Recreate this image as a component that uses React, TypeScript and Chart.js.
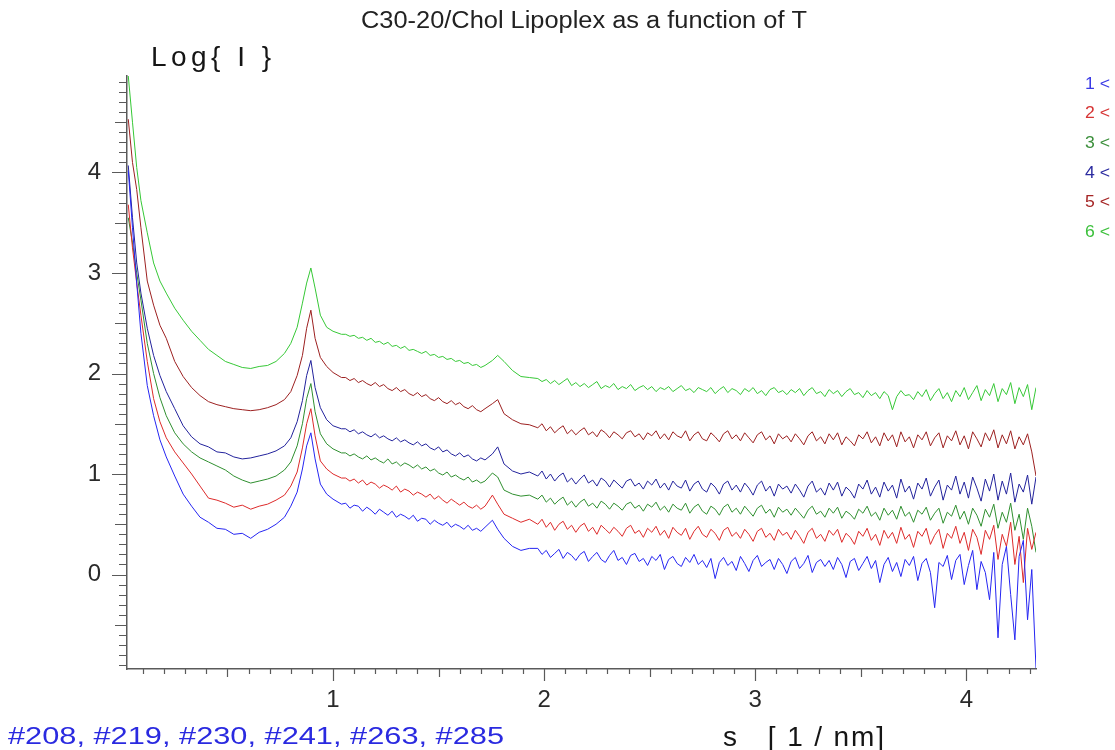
import React, { useEffect, useRef } from 'react';
import { Chart, registerables } from 'chart.js';

Chart.register(...registerables);

// ---------------- data ----------------
const S = [
  0.03, 0.05, 0.07, 0.09, 0.12, 0.15, 0.18, 0.21, 0.25, 0.29, 0.33, 0.37, 0.41, 0.45, 0.49, 0.53, 0.57, 0.61, 0.65, 0.69, 0.73, 0.77,
  0.80, 0.83, 0.855, 0.875, 0.895, 0.915, 0.94, 0.97, 1.00, 1.04,
  1.06, 1.08, 1.10, 1.12, 1.14, 1.16, 1.18, 1.20, 1.22, 1.24, 1.26, 1.28, 1.30, 1.32, 1.34, 1.36, 1.38,
  1.40, 1.42, 1.44, 1.46, 1.48, 1.50, 1.52, 1.54, 1.56, 1.58, 1.60, 1.62, 1.64, 1.66, 1.68, 1.70, 1.72,
  1.755, 1.78, 1.81, 1.85, 1.89, 1.93,
  1.97, 1.99, 2.01, 2.03, 2.05, 2.07, 2.09, 2.11, 2.13, 2.15,
  2.17, 2.19, 2.21, 2.23, 2.25, 2.27, 2.29, 2.31, 2.33, 2.35,
  2.37, 2.39, 2.41, 2.43, 2.45, 2.47, 2.49, 2.51, 2.53, 2.55,
  2.57, 2.59, 2.61, 2.63, 2.65, 2.67, 2.69, 2.71, 2.73, 2.75,
  2.77, 2.79, 2.81, 2.83, 2.85, 2.87, 2.89, 2.91, 2.93, 2.95,
  2.97, 2.99, 3.01, 3.03, 3.05, 3.07, 3.09, 3.11, 3.13, 3.15,
  3.17, 3.19, 3.21, 3.23, 3.25, 3.27, 3.29, 3.31, 3.33, 3.35,
  3.37, 3.39, 3.41, 3.43, 3.45, 3.47, 3.49, 3.51, 3.53, 3.55,
  3.57, 3.59, 3.61, 3.63, 3.65, 3.67, 3.69, 3.71, 3.73, 3.75,
  3.77, 3.79, 3.81, 3.83, 3.85, 3.87, 3.89, 3.91, 3.93, 3.95,
  3.97, 3.99, 4.01, 4.03, 4.05, 4.07, 4.09, 4.11, 4.13, 4.15,
  4.17, 4.19, 4.21, 4.23, 4.25, 4.27, 4.29, 4.31, 4.33,
];

const LOGI_208 = [
  4.02, 3.45, 2.90, 2.40, 1.88, 1.58, 1.34, 1.17, 0.98, 0.80, 0.68, 0.57, 0.52, 0.46, 0.45, 0.40, 0.41, 0.36, 0.42, 0.45, 0.50, 0.57,
  0.68, 0.82, 1.05, 1.28, 1.41, 1.15, 0.90, 0.80, 0.75, 0.70,
  0.71, 0.66, 0.69, 0.68, 0.63, 0.67, 0.64, 0.60, 0.65, 0.62, 0.59, 0.63, 0.57, 0.60, 0.58, 0.55, 0.59,
  0.53, 0.56, 0.55, 0.50, 0.54, 0.51, 0.49, 0.52, 0.47, 0.50, 0.48, 0.45, 0.49, 0.44, 0.46, 0.43, 0.47,
  0.54, 0.45, 0.36, 0.28, 0.24, 0.26,
  0.26, 0.20, 0.24, 0.17, 0.21, 0.25, 0.16, 0.22, 0.19, 0.14,
  0.20, 0.23, 0.13, 0.18, 0.22, 0.15, 0.12, 0.19, 0.24, 0.14,
  0.17, 0.10, 0.19, 0.21, 0.13, 0.16, 0.09, 0.18, 0.14, 0.20,
  0.05, 0.15, 0.18, 0.11, 0.08, 0.17, 0.12, 0.20, 0.10, 0.14,
  0.07, 0.16, -0.04, 0.12, 0.17, 0.09, 0.13, 0.04, 0.18, 0.11,
  0.03, 0.14, 0.19, 0.08, 0.12, 0.15, 0.05, 0.16, 0.10, 0.01,
  0.13, 0.17, 0.06, 0.11, 0.19, 0.02, 0.12, 0.15, 0.08, 0.14,
  0.05, 0.17, 0.10, -0.03, 0.13, 0.16, 0.04, 0.11, 0.18, 0.06,
  0.14, -0.08, 0.10, 0.17, 0.03, 0.12, -0.02, 0.15, 0.09, 0.18,
  -0.06, 0.11, 0.16, 0.02, -0.33, 0.12, 0.08, 0.19, -0.05, 0.14,
  0.20, -0.10, 0.09, 0.24, -0.15, 0.13, 0.02, -0.25, 0.22, -0.63,
  0.10, 0.28, -0.20, -0.65, 0.18, 0.34, -0.45, 0.05, -0.93,
];

const LOGI_219 = [
  3.68, 3.25, 2.90, 2.58, 2.12, 1.75, 1.52, 1.36, 1.22, 1.11, 1.00, 0.88, 0.76, 0.74, 0.71, 0.67, 0.69, 0.65, 0.68, 0.70, 0.74, 0.79,
  0.88, 1.02, 1.26, 1.50, 1.65, 1.38, 1.13, 1.05, 1.00, 0.96,
  0.96, 0.93, 0.95, 0.91, 0.94, 0.89, 0.92, 0.90, 0.86, 0.89, 0.87, 0.84, 0.88, 0.82, 0.85, 0.83, 0.79,
  0.82, 0.80, 0.77, 0.80, 0.75, 0.78, 0.74, 0.71, 0.75, 0.72, 0.69, 0.72, 0.68, 0.66, 0.69, 0.65, 0.68,
  0.79, 0.70, 0.60, 0.56, 0.52, 0.55,
  0.50, 0.55, 0.47, 0.52, 0.44, 0.50, 0.53, 0.45, 0.49, 0.42,
  0.48, 0.51, 0.43, 0.47, 0.40, 0.49, 0.45, 0.41, 0.47, 0.43,
  0.38, 0.46, 0.49, 0.41, 0.44, 0.37, 0.46, 0.42, 0.48, 0.39,
  0.44, 0.36, 0.47, 0.42, 0.39, 0.46, 0.35, 0.43, 0.48, 0.40,
  0.37, 0.45, 0.41, 0.34, 0.44, 0.47, 0.38, 0.42, 0.36, 0.45,
  0.40, 0.33, 0.43, 0.46, 0.37, 0.41, 0.34, 0.45, 0.39, 0.42,
  0.35, 0.44, 0.38, 0.31, 0.42, 0.46, 0.36, 0.40, 0.33, 0.44,
  0.39, 0.45, 0.32, 0.41, 0.37, 0.30, 0.43, 0.38, 0.46, 0.34,
  0.40, 0.29, 0.44, 0.36, 0.42, 0.31, 0.47, 0.35, 0.40, 0.27,
  0.43, 0.38, 0.46, 0.30, 0.39, 0.45, 0.26, 0.41, 0.36, 0.48,
  0.31, 0.42, 0.24, 0.45, 0.37, 0.20, 0.44, 0.35, 0.49, 0.15,
  0.40, 0.28, 0.52, 0.10, 0.38, -0.08, 0.46, 0.25, 0.42,
];

const LOGI_230 = [
  3.55, 3.30, 3.00, 2.73, 2.30, 2.00, 1.76, 1.58, 1.41, 1.30, 1.22, 1.16, 1.12, 1.08, 1.04, 0.98, 0.94, 0.91, 0.93, 0.95, 0.98, 1.04,
  1.12, 1.28, 1.50, 1.75, 1.90, 1.62, 1.40, 1.30, 1.25, 1.21,
  1.21, 1.18, 1.20, 1.17, 1.15, 1.18, 1.14, 1.16, 1.13, 1.11, 1.15, 1.10, 1.12, 1.08, 1.11, 1.09, 1.06,
  1.09, 1.05, 1.07, 1.03, 1.05, 1.01, 0.99, 1.02, 0.97, 0.99, 0.96, 0.94, 0.97, 0.92, 0.94, 0.91, 0.93,
  1.01, 0.97, 0.84, 0.80, 0.78, 0.79,
  0.75, 0.79, 0.72, 0.76, 0.70, 0.74, 0.77, 0.69, 0.73, 0.67,
  0.72, 0.75, 0.68, 0.71, 0.66, 0.73, 0.70, 0.65, 0.71, 0.68,
  0.64, 0.70, 0.72, 0.66, 0.69, 0.63, 0.70, 0.67, 0.72, 0.64,
  0.68, 0.62, 0.70, 0.66, 0.64, 0.71, 0.61, 0.67, 0.70, 0.63,
  0.60, 0.68, 0.65, 0.59, 0.67, 0.70, 0.62, 0.66, 0.60, 0.68,
  0.63, 0.58, 0.66, 0.69, 0.61, 0.65, 0.57, 0.67, 0.62, 0.65,
  0.59, 0.66, 0.61, 0.56, 0.64, 0.68, 0.60, 0.63, 0.57, 0.66,
  0.61, 0.67, 0.56, 0.63, 0.60, 0.55, 0.65, 0.61, 0.68, 0.58,
  0.62, 0.54, 0.66, 0.59, 0.64, 0.55, 0.68, 0.58, 0.62, 0.52,
  0.64, 0.60, 0.67, 0.54, 0.61, 0.66, 0.51, 0.62, 0.58, 0.69,
  0.55, 0.63, 0.50, 0.66, 0.59, 0.48, 0.65, 0.57, 0.70, 0.46,
  0.62, 0.52, 0.71, 0.44, 0.60, 0.35, 0.66, 0.48, 0.22,
];

const LOGI_241 = [
  4.07, 3.55, 3.10, 2.80, 2.45, 2.18, 1.98, 1.82, 1.65, 1.48, 1.37, 1.30, 1.27, 1.22, 1.21, 1.17, 1.15, 1.16, 1.18, 1.20, 1.23, 1.28,
  1.36, 1.52, 1.73, 1.98, 2.13, 1.86, 1.66, 1.54, 1.48, 1.45,
  1.45, 1.42, 1.44, 1.40, 1.42, 1.39, 1.37, 1.40, 1.36, 1.38, 1.35, 1.33, 1.36, 1.32, 1.34, 1.31, 1.29,
  1.32, 1.28, 1.30, 1.26, 1.24, 1.27, 1.22, 1.24, 1.20, 1.18, 1.21, 1.17, 1.19, 1.15, 1.13, 1.16, 1.14,
  1.20, 1.27, 1.10, 1.03, 1.00, 1.02,
  0.98, 1.03, 0.95, 1.00, 0.93, 0.98, 1.01, 0.92, 0.96, 0.90,
  0.95, 0.99, 0.91, 0.94, 0.88, 0.96, 0.93, 0.87, 0.94, 0.90,
  0.86, 0.93, 0.95, 0.88, 0.91, 0.85, 0.93, 0.89, 0.95, 0.86,
  0.91, 0.84, 0.93, 0.88, 0.86, 0.94, 0.83, 0.90, 0.93, 0.85,
  0.82, 0.91, 0.87, 0.80, 0.90, 0.93, 0.84, 0.89, 0.82, 0.91,
  0.86, 0.79, 0.89, 0.93, 0.83, 0.88, 0.78, 0.90, 0.85, 0.88,
  0.81, 0.90, 0.84, 0.77, 0.88, 0.93, 0.82, 0.86, 0.79, 0.91,
  0.84, 0.92, 0.78, 0.87, 0.83, 0.76, 0.90, 0.85, 0.94, 0.80,
  0.87, 0.77, 0.92, 0.83, 0.89, 0.76, 0.95, 0.82, 0.88, 0.75,
  0.91, 0.85, 0.96, 0.78, 0.87, 0.94, 0.74, 0.89, 0.84, 0.98,
  0.80, 0.92, 0.76, 0.97, 0.86, 0.73, 0.95, 0.83, 1.00, 0.74,
  0.93, 0.80, 1.01, 0.72, 0.90, 0.82, 0.99, 0.70, 0.97,
];

const LOGI_263 = [
  4.53, 4.10, 3.83, 3.45, 2.92, 2.68, 2.48, 2.35, 2.12, 1.97, 1.86, 1.78, 1.72, 1.69, 1.67, 1.65, 1.64, 1.63, 1.64, 1.66, 1.69, 1.74,
  1.82, 1.98, 2.18, 2.45, 2.63, 2.35, 2.16, 2.07, 2.01, 1.96,
  1.96, 1.93, 1.95, 1.91, 1.93, 1.90, 1.88, 1.91, 1.87, 1.89, 1.85, 1.83, 1.86, 1.82, 1.84, 1.80, 1.78,
  1.81, 1.77, 1.79, 1.75, 1.73, 1.76, 1.72, 1.70, 1.73, 1.69, 1.71, 1.67, 1.65, 1.68, 1.64, 1.62, 1.65,
  1.70, 1.74, 1.60, 1.54, 1.50, 1.49,
  1.46, 1.50, 1.43, 1.47, 1.41, 1.45, 1.48, 1.40, 1.44, 1.39,
  1.43, 1.46, 1.39, 1.42, 1.37, 1.44, 1.41, 1.36, 1.42, 1.39,
  1.35, 1.41, 1.43, 1.37, 1.40, 1.34, 1.41, 1.38, 1.43, 1.35,
  1.40, 1.34, 1.42, 1.38, 1.36, 1.43, 1.33, 1.39, 1.42, 1.35,
  1.33, 1.41, 1.37, 1.32, 1.40, 1.43, 1.35, 1.39, 1.33, 1.41,
  1.36, 1.31, 1.39, 1.42, 1.34, 1.38, 1.30, 1.40, 1.35, 1.38,
  1.32, 1.40, 1.35, 1.29, 1.38, 1.42, 1.33, 1.37, 1.30, 1.40,
  1.34, 1.41, 1.29, 1.37, 1.33, 1.28, 1.39, 1.35, 1.42, 1.31,
  1.37, 1.28, 1.41, 1.33, 1.39, 1.27, 1.42, 1.32, 1.37, 1.26,
  1.39, 1.34, 1.42, 1.28, 1.36, 1.41, 1.26, 1.38, 1.33, 1.43,
  1.29, 1.38, 1.25, 1.42, 1.35, 1.27, 1.41, 1.33, 1.44, 1.26,
  1.39, 1.30, 1.43, 1.25, 1.37, 1.29, 1.40, 1.22, 0.98,
];

const LOGI_285 = [
  4.96, 4.50, 4.05, 3.72, 3.40, 3.10, 2.92, 2.80, 2.65, 2.53, 2.42, 2.33, 2.24, 2.18, 2.12, 2.09, 2.06, 2.05, 2.07, 2.08, 2.12, 2.20,
  2.30, 2.46, 2.70, 2.90, 3.05, 2.85, 2.58, 2.46, 2.42, 2.39,
  2.39, 2.37, 2.38, 2.35, 2.36, 2.33, 2.35, 2.31, 2.32, 2.29, 2.31, 2.27, 2.28, 2.25, 2.27, 2.23, 2.24,
  2.22, 2.20, 2.22, 2.18, 2.19, 2.16, 2.17, 2.14, 2.15, 2.12, 2.13, 2.10, 2.11, 2.08, 2.09, 2.06, 2.08,
  2.13, 2.18, 2.12, 2.03, 1.97, 1.96,
  1.95, 1.92, 1.94, 1.90, 1.93, 1.89, 1.92, 1.95, 1.88, 1.91,
  1.87, 1.90, 1.86, 1.89, 1.92, 1.85, 1.88, 1.86, 1.90, 1.84,
  1.87, 1.85, 1.89, 1.83, 1.86, 1.88, 1.84, 1.87, 1.82, 1.86,
  1.84, 1.87, 1.82, 1.85, 1.88, 1.83, 1.85, 1.81, 1.86, 1.84,
  1.82, 1.86, 1.80, 1.84, 1.87, 1.81, 1.85, 1.83, 1.79, 1.85,
  1.82, 1.86, 1.80, 1.83, 1.78, 1.84, 1.86, 1.81, 1.83, 1.79,
  1.84, 1.81, 1.85, 1.78, 1.83, 1.86, 1.80, 1.82, 1.77, 1.84,
  1.80, 1.83, 1.77, 1.82, 1.85, 1.79, 1.81, 1.76, 1.83, 1.78,
  1.81, 1.75, 1.82, 1.78, 1.64, 1.77, 1.83, 1.78, 1.79, 1.74,
  1.82, 1.77, 1.84, 1.73, 1.80, 1.85, 1.75, 1.81, 1.72, 1.83,
  1.77, 1.86, 1.74, 1.81, 1.88, 1.73, 1.84, 1.78, 1.90, 1.72,
  1.85, 1.79, 1.91, 1.70, 1.86, 1.77, 1.89, 1.64, 1.86,
];

const SERIES = [LOGI_208, LOGI_219, LOGI_230, LOGI_241, LOGI_263, LOGI_285];
const RUN_IDS = ['#208', '#219', '#230', '#241', '#263', '#285'];
const LINE_COLORS = ['#2525f2', '#dd2a2a', '#2f8f2f', '#22229c', '#9c2020', '#36c836'];
const LEGEND_LABELS = ['1 <', '2 <', '3 <', '4 <', '5 <', '6 <'];
const LEGEND_COLORS = ['#3a3ae6', '#d63434', '#3b8f3b', '#2b2ba0', '#a52525', '#3cc03c'];
const X_TICKS = [1, 2, 3, 4];
const Y_TICKS = [0, 1, 2, 3, 4];

const TITLE = 'C30-20/Chol Lipoplex as a function of T';
const Y_TITLE = 'Log{ I }';
const X_TITLE = 's   [ 1 / nm]';
const RUNS_TEXT = '#208, #219, #230, #241, #263, #285';

const FONT = '"Liberation Sans", Arial, sans-serif';
const AXIS_COLOR = '#5a5a5a';

// text stretched/condensed horizontally to a target width
function scaledText(ctx: CanvasRenderingContext2D, text: string, x: number, y: number, width: number, font: string, color: string) {
  ctx.save();
  ctx.font = font;
  ctx.fillStyle = color;
  ctx.textAlign = 'left';
  ctx.textBaseline = 'middle';
  const w = ctx.measureText(text).width;
  ctx.translate(x, y);
  ctx.scale(width / w, 1);
  ctx.fillText(text, 0, 0);
  ctx.restore();
}

// text with letter spacing adjusted to a target width
function spacedText(ctx: CanvasRenderingContext2D, text: string, x: number, y: number, width: number, font: string, color: string) {
  ctx.save();
  ctx.font = font;
  ctx.fillStyle = color;
  ctx.textAlign = 'left';
  ctx.textBaseline = 'middle';
  (ctx as any).letterSpacing = '0px';
  const w = ctx.measureText(text).width;
  const ls = text.length > 1 ? (width - w) / (text.length - 1) : 0;
  (ctx as any).letterSpacing = ls.toFixed(2) + 'px';
  ctx.fillText(text, x, y);
  ctx.restore();
}

const overlayPlugin = {
  id: 'overlay',
  afterDraw(chart: any) {
    const { ctx, chartArea } = chart;
    const xs = chart.scales.x;
    const ys = chart.scales.y;
    ctx.save();
    ctx.strokeStyle = AXIS_COLOR;
    ctx.lineWidth = 1.2;
    ctx.beginPath();
    for (let k = Math.ceil(ys.min * 10); k <= Math.floor(ys.max * 10); k++) {
      const py = Math.round(ys.getPixelForValue(k / 10)) + 0.5;
      const len = k % 10 === 0 ? 15 : Math.abs(k) % 5 === 0 ? 12 : 8;
      ctx.moveTo(chartArea.left - len, py);
      ctx.lineTo(chartArea.left, py);
    }
    for (let k = Math.ceil(xs.min * 10); k <= Math.floor(xs.max * 10); k++) {
      const px = Math.round(xs.getPixelForValue(k / 10)) + 0.5;
      const len = k % 10 === 0 ? 12 : k % 5 === 0 ? 8 : 5;
      ctx.moveTo(px, chartArea.bottom);
      ctx.lineTo(px, chartArea.bottom + len);
    }
    ctx.stroke();
    ctx.restore();

    scaledText(ctx, TITLE, 361, 22, 446, '23px ' + FONT, '#222');
    spacedText(ctx, Y_TITLE, 151, 58, 120, '28px ' + FONT, '#151515');
    spacedText(ctx, X_TITLE, 723, 738, 161, '28px ' + FONT, '#151515');
    scaledText(ctx, RUNS_TEXT, 8, 738, 496, '23px ' + FONT, '#2a2ae0');
    LEGEND_LABELS.forEach((lab, i) => {
      scaledText(ctx, lab, 1085, 84 + i * 29.7, 25, '17px ' + FONT, LEGEND_COLORS[i]);
    });
  },
};

export default function App() {
  const ref = useRef<HTMLCanvasElement | null>(null);
  useEffect(() => {
    if (!ref.current) return;
    const chart = new Chart(ref.current, {
      type: 'line',
      data: {
        datasets: SERIES.map((vals, k) => ({
          label: RUN_IDS[k],
          data: S.map((s, i) => ({ x: s, y: vals[i] })),
          borderColor: LINE_COLORS[k],
          borderWidth: 1,
          pointRadius: 0,
          fill: false,
          tension: 0,
        })),
      },
      options: {
        responsive: false,
        animation: false,
        devicePixelRatio: 1,
        layout: { padding: { left: 0, right: 79, top: 76, bottom: 0 } },
        plugins: {
          legend: { display: false },
          tooltip: { enabled: false },
          title: { display: false },
        },
        scales: {
          x: {
            type: 'linear',
            min: 0.024,
            max: 4.33,
            grid: { display: false, drawTicks: false },
            border: { display: true, color: AXIS_COLOR, width: 1.5 },
            ticks: { font: { family: FONT, size: 24 }, color: '#2a2a2a', padding: 17, maxRotation: 0, autoSkip: false },
            afterBuildTicks: (sc: any) => { sc.ticks = X_TICKS.map((v) => ({ value: v })); },
            afterFit: (sc: any) => { sc.height = 81; },
          },
          y: {
            type: 'linear',
            min: -0.94,
            max: 4.96,
            grid: { display: false, drawTicks: false },
            border: { display: true, color: AXIS_COLOR, width: 1.5 },
            ticks: { font: { family: FONT, size: 24 }, color: '#2a2a2a', padding: 26, autoSkip: false },
            afterBuildTicks: (sc: any) => { sc.ticks = Y_TICKS.map((v) => ({ value: v })); },
            afterFit: (sc: any) => { sc.width = 127; },
          },
        },
      },
      plugins: [overlayPlugin],
    } as any);
    return () => chart.destroy();
  }, []);

  return (
    <div style={{ position: 'fixed', left: 0, top: 0, width: 1115, height: 750, background: '#fff', overflow: 'hidden' }}>
      <canvas ref={ref} width={1115} height={750} style={{ display: 'block', width: 1115, height: 750 }} />
    </div>
  );
}
